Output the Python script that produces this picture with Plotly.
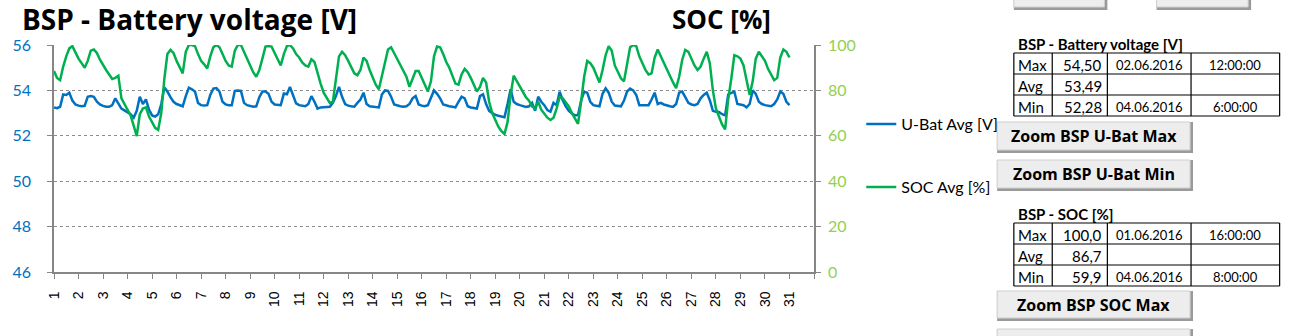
import plotly.graph_objects as go

# Battery voltage (V) and state of charge (%), June 2016, 3-hourly averages.
# One row per day: 00, 03, 06, 09, 12, 15, 18, 21 h; final value is 01.07 00:00.
STEP_HOURS = 3

u_bat_avg = [
    53.25, 53.22, 53.28, 53.82, 53.80, 53.90, 53.55, 53.38,
    53.33, 53.30, 53.32, 53.72, 53.75, 53.72, 53.50, 53.38,
    53.32, 53.28, 53.28, 53.35, 53.65, 53.45, 53.20, 53.12,
    53.05, 52.95, 52.80, 53.10, 53.72, 53.40, 53.60, 53.15,
    52.90, 52.85, 52.95, 53.40, 54.13, 53.95, 53.70, 53.50,
    53.40, 53.35, 53.30, 53.75, 54.12, 54.05, 53.95, 53.45,
    53.35, 53.33, 53.35, 53.80, 54.08, 54.10, 53.95, 53.50,
    53.38, 53.35, 53.35, 53.98, 54.00, 53.98, 53.45, 53.35,
    53.30, 53.28, 53.30, 53.70, 53.95, 53.95, 53.85, 53.50,
    53.38, 53.35, 53.35, 53.86, 53.83, 54.15, 53.80, 53.43,
    53.35, 53.33, 53.30, 53.40, 53.75, 53.50, 53.20, 53.25,
    53.25, 53.27, 53.28, 53.45, 53.75, 54.16, 53.72, 53.40,
    53.33, 53.30, 53.28, 53.45, 53.60, 53.90, 53.40, 53.30,
    53.28, 53.27, 53.25, 53.82, 54.00, 53.98, 53.72, 53.38,
    53.33, 53.30, 53.28, 53.30, 53.40, 53.65, 53.75, 53.38,
    53.33, 53.30, 53.35, 53.70, 54.00, 53.85, 53.65, 53.38,
    53.33, 53.30, 53.28, 53.25, 53.50, 53.72, 53.65, 53.30,
    53.25, 53.22, 53.20, 53.75, 53.83, 53.40, 53.10, 53.00,
    52.92, 52.88, 52.84, 52.82, 53.40, 54.05, 53.50, 53.40,
    53.35, 53.30, 53.27, 53.30, 53.45, 53.10, 53.72, 53.50,
    53.35, 53.13, 53.06, 53.45, 53.35, 53.94, 53.57, 53.30,
    53.10, 52.98, 52.90, 52.92, 53.55, 53.94, 53.90, 53.50,
    53.35, 53.32, 53.30, 53.85, 54.09, 53.90, 53.50, 53.33,
    53.32, 53.30, 53.55, 53.95, 54.08, 54.00, 53.80, 53.35,
    53.35, 53.35, 53.35, 53.60, 53.90, 53.40, 53.45, 53.38,
    53.33, 53.30, 53.27, 53.40, 53.90, 53.95, 53.70, 53.45,
    53.38, 53.35, 53.40, 53.65, 53.80, 53.90, 53.57, 53.10,
    53.06, 53.05, 52.95, 52.90, 53.82, 53.87, 53.95, 53.40,
    53.38, 53.35, 53.25, 53.40, 54.00, 53.85, 53.50, 53.40,
    53.35, 53.33, 53.30, 53.40, 53.60, 53.95, 53.85, 53.50,
    53.35,
]

soc_avg = [
    88.5, 85.5, 84.5, 90.5, 95.0, 98.5, 99.5, 96.5,
    94.0, 92.0, 90.0, 93.0, 97.5, 98.0, 96.5, 93.5,
    91.0, 89.0, 87.0, 85.0, 85.5, 86.5, 76.5, 74.0,
    71.5, 69.0, 64.5, 59.9, 69.5, 72.0, 72.5, 68.5,
    66.0, 63.5, 62.6, 70.0, 85.0, 96.0, 97.8, 96.5,
    93.0, 90.0, 87.5, 97.0, 100.0, 100.0, 99.5, 96.0,
    93.0, 91.5, 89.7, 95.0, 99.0, 100.0, 99.0, 96.0,
    93.0, 91.0, 90.5, 97.5, 100.0, 100.0, 97.0, 94.0,
    91.0, 88.0, 86.0, 89.0, 94.0, 99.3, 99.5, 99.3,
    96.5, 93.5, 91.0, 96.0, 99.5, 100.0, 98.5, 96.0,
    94.5, 92.3, 91.0, 90.5, 93.7, 92.5, 87.5, 83.0,
    79.0, 76.5, 74.5, 75.0, 85.0, 95.0, 97.0, 95.5,
    93.0, 90.5, 87.5, 86.7, 89.0, 94.5, 93.0, 89.0,
    85.5, 82.5, 80.5, 86.0, 92.5, 98.0, 99.0, 96.5,
    93.5, 91.0, 89.0, 86.0, 81.6, 85.5, 88.5, 88.5,
    85.5, 82.5, 79.5, 84.0, 95.0, 99.3, 99.0, 96.0,
    92.5, 90.0, 86.5, 83.0, 82.5, 87.0, 89.5, 88.0,
    85.5, 82.5, 79.5, 81.5, 85.5, 83.5, 75.0, 70.0,
    67.0, 64.0, 62.0, 60.8, 66.0, 78.0, 86.5, 84.0,
    82.0, 79.4, 77.0, 75.5, 73.0, 72.0, 75.0, 71.5,
    69.5, 68.0, 67.0, 68.0, 72.0, 77.0, 76.5, 74.5,
    73.0, 70.0, 67.5, 65.3, 75.0, 86.0, 93.0, 92.0,
    90.0, 86.5, 83.5, 89.0, 95.5, 99.5, 97.5, 91.0,
    88.0, 85.3, 84.0, 91.5, 99.0, 100.0, 99.5, 95.0,
    92.0, 89.0, 87.0, 87.5, 94.5, 98.0, 95.0, 92.0,
    89.0, 86.0, 83.5, 81.0, 86.0, 93.5, 97.8, 97.0,
    94.0, 91.0, 89.0, 90.5, 94.0, 97.0, 92.0, 80.0,
    72.0, 68.0, 65.0, 62.8, 76.0, 85.0, 95.5, 95.0,
    94.0, 91.0, 85.0, 78.0, 84.0, 94.0, 97.0, 95.0,
    93.0, 89.5, 87.0, 84.5, 85.5, 94.5, 98.0, 97.0,
    94.5,
]

day_ticks = list(range(1, 33))
day_labels = [str(d) for d in range(1, 32)] + [""]

# Summary tables
stat_names = ["Max", "Avg", "Min"]
ubat_stats = ["54,50", "53,49", "52,28"]
ubat_dates = ["02.06.2016", "", "04.06.2016"]
ubat_times = ["12:00:00", "", "6:00:00"]
soc_stats = ["100,0", "86,7", "59,9"]
soc_dates = ["01.06.2016", "", "04.06.2016"]
soc_times = ["16:00:00", "", "8:00:00"]

x_day = [1 + i * STEP_HOURS / 24 for i in range(len(u_bat_avg))]

BLUE = "#0070C0"
GREEN = "#00B050"
LIGHT_GREEN = "#92D050"
AXIS_GREY = "#868686"

# plot area in page pixels
L, T, W, H = 42, 45, 772, 227
FIG_W, FIG_H = 1301, 336


def px(x):
    return (x - L) / W


def py(y):
    return (T + H - y) / H


fig = go.Figure()
fig.add_trace(go.Scatter(
    x=x_day, y=u_bat_avg, name="U-Bat Avg [V]", mode="lines", showlegend=True,
    line=dict(color=BLUE, width=2.5), yaxis="y", legend="legend",
))
fig.add_trace(go.Scatter(
    x=x_day, y=soc_avg, name="SOC Avg [%]", mode="lines", showlegend=True,
    line=dict(color=GREEN, width=2.5), yaxis="y2", legend="legend2",
))

shapes = []
annotations = []

# titles above the plot
annotations.append(dict(text="<b>BSP - Battery voltage [V]</b>", x=px(7), y=py(19),
                        xref="paper", yref="paper", xanchor="left", yanchor="middle",
                        showarrow=False, font=dict(family="Open Sans", size=28, color="black")))
annotations.append(dict(text="<b>SOC [%]</b>", x=px(668), y=py(19),
                        xref="paper", yref="paper", xanchor="left", yanchor="middle",
                        showarrow=False, font=dict(family="Open Sans", size=26, color="black")))


def add_button(x0, y0, x1, y1, label=None):
    shapes.append(dict(type="rect", xref="paper", yref="paper",
                       x0=px(x0), x1=px(x1), y0=py(y0), y1=py(y1),
                       fillcolor="#9A9A9A", line=dict(width=0), layer="above"))
    shapes.append(dict(type="rect", xref="paper", yref="paper",
                       x0=px(x0), x1=px(x1 - 3), y0=py(y0), y1=py(y1 - 3),
                       fillcolor="#EDEDED", line=dict(color="#CFCFCF", width=1), layer="above"))
    if label:
        annotations.append(dict(text="<b>%s</b>" % label, x=px((x0 + x1 - 3) / 2), y=py((y0 + y1 - 3) / 2),
                                xref="paper", yref="paper", xanchor="center", yanchor="middle",
                                showarrow=False, font=dict(family="Open Sans", size=16, color="black")))


def add_table(top, header, values, dates, times):
    cols = [1017, 1056, 1112, 1197, 1287]
    row_h = 21
    bottom = top + 3 * row_h
    annotations.append(dict(text="<b>%s</b>" % header, x=px(1019), y=py(top - 9),
                            xref="paper", yref="paper", xanchor="left", yanchor="middle",
                            showarrow=False, font=dict(family="Lato", size=15, color="black")))
    for c in cols:
        shapes.append(dict(type="line", xref="paper", yref="paper", x0=px(c), x1=px(c),
                           y0=py(top), y1=py(bottom), line=dict(color="black", width=1.2), layer="above"))
    for r in range(4):
        yy = top + r * row_h
        shapes.append(dict(type="line", xref="paper", yref="paper", x0=px(cols[0]), x1=px(cols[-1]),
                           y0=py(yy), y1=py(yy), line=dict(color="black", width=1.2), layer="above"))
    for r in range(3):
        yc = top + r * row_h + row_h / 2 + 1
        annotations.append(dict(text=stat_names[r], x=px(1019), y=py(yc), xref="paper", yref="paper",
                                xanchor="left", yanchor="middle", showarrow=False,
                                font=dict(family="Lato", size=15, color="black")))
        annotations.append(dict(text=values[r], x=px(1109), y=py(yc), xref="paper", yref="paper",
                                xanchor="right", yanchor="middle", showarrow=False,
                                font=dict(family="Lato", size=15, color="black")))
        if dates[r]:
            annotations.append(dict(text=dates[r], x=px(1154), y=py(yc), xref="paper", yref="paper",
                                    xanchor="center", yanchor="middle", showarrow=False,
                                    font=dict(family="Lato", size=13, color="black")))
        if times[r]:
            annotations.append(dict(text=times[r], x=px(1242), y=py(yc), xref="paper", yref="paper",
                                    xanchor="center", yanchor="middle", showarrow=False,
                                    font=dict(family="Lato", size=13, color="black")))


# navigation buttons along the top edge (only their lower part is on the page)
add_button(1017, -25, 1112, 10)
add_button(1162, -25, 1258, 10)
add_table(53, "BSP - Battery voltage [V]", ubat_stats, ubat_dates, ubat_times)
add_button(1000, 122, 1199, 153, "Zoom BSP U-Bat Max")
add_button(1000, 160, 1199, 191, "Zoom BSP U-Bat Min")
add_table(223, "BSP - SOC [%]", soc_stats, soc_dates, soc_times)
add_button(1000, 291, 1199, 321, "Zoom BSP SOC Max")
add_button(1000, 329, 1199, 362)

fig.update_layout(
    width=FIG_W, height=FIG_H,
    showlegend=True,
    margin=dict(l=L, r=FIG_W - L - W, t=T, b=FIG_H - T - H, pad=0),
    paper_bgcolor="white", plot_bgcolor="white",
    font=dict(family="Lato", color="black"),
    xaxis=dict(
        range=[1, 32], tickmode="array", tickvals=day_ticks, ticktext=day_labels,
        tickangle=-90, ticks="outside", ticklen=5, tickcolor=AXIS_GREY, tickwidth=1,
        showline=True, linecolor=AXIS_GREY, linewidth=1.5, showgrid=False, zeroline=False,
        tickfont=dict(family="Liberation Sans", size=14, color="black"), ticklabelstandoff=7,
    ),
    yaxis=dict(
        range=[46, 56], dtick=2, tick0=46, ticks="outside", ticklen=5, tickcolor=AXIS_GREY,
        showline=True, linecolor=AXIS_GREY, linewidth=1.5, zeroline=False,
        showgrid=True, gridcolor="#8C8C8C", griddash="dot", gridwidth=1,
        tickfont=dict(family="Lato", size=16, color=BLUE), ticklabelstandoff=13,
    ),
    yaxis2=dict(
        range=[0, 100], dtick=20, overlaying="y", side="right", ticks="outside", ticklen=5,
        tickcolor=AXIS_GREY, showline=True, linecolor=AXIS_GREY, linewidth=1.5,
        showgrid=False, zeroline=False,
        tickfont=dict(family="Lato", size=16, color=LIGHT_GREEN), ticklabelstandoff=4,
    ),
    legend=dict(x=px(862), y=py(124), xanchor="left", yanchor="middle",
                bgcolor="rgba(0,0,0,0)", font=dict(family="Lato", size=16, color="black")),
    legend2=dict(x=px(862), y=py(187), xanchor="left", yanchor="middle",
                 bgcolor="rgba(0,0,0,0)", font=dict(family="Lato", size=16, color="black")),
    shapes=shapes,
    annotations=annotations,
)

fig.write_html("out.html")
